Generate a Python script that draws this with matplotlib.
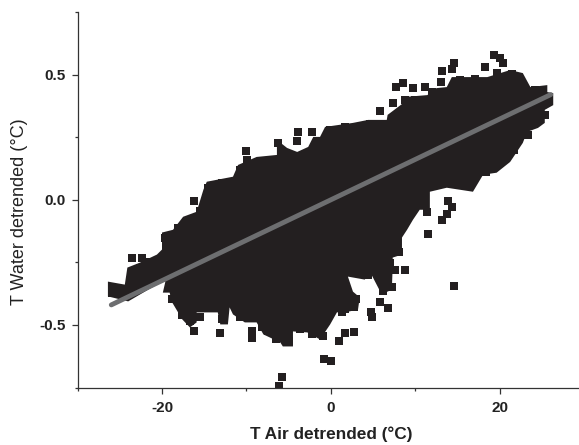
import matplotlib
matplotlib.use("Agg")
import matplotlib.pyplot as plt

# outline of the solid black part of the cloud
core_x = [-26.4, -24.4, -24.1, -22.6, -20.6, -20.0, -20.0, -18.7, -17.5, -15.9, -15.1, -14.7,
          -11.6, -11.0, -8.8, -6.4, -6.4, -5.2, -4.0, -2.7, -2.1, -1.3, -0.7, 2.6, 4.4, 6.6,
          6.7, 8.7, 8.5, 11.4, 12.5, 13.7, 14.3, 18.5, 21.2, 22.7, 23.6, 25.6, 25.6, 26.3,
          26.3, 25.3, 25.3, 24.5, 23.2, 22.7, 21.2, 19.6, 18.0, 16.8, 13.7, 11.7, 11.7, 10.5,
          9.7, 9.0, 8.4, 8.4, 7.3, 7.3, 7.2, 6.0, 4.6, 4.0, 2.0, 2.6, 3.4, 3.2, 2.2, 0.7,
          -0.1, -1.3, -2.8, -4.5, -4.5, -5.7, -6.0, -8.0, -8.8, -10.2, -11.6, -12.0, -12.2,
          -13.1, -13.4, -15.9, -15.9, -16.7, -17.6, -18.8, -19.1, -19.9, -19.6, -20.2, -24.0,
          -26.4]
core_y = [-0.327, -0.339, -0.271, -0.251, -0.219, -0.199, -0.131, -0.120, -0.068, -0.048, 0.040,
          0.072, 0.092, 0.139, 0.171, 0.179, 0.239, 0.207, 0.191, 0.211, 0.251, 0.251, 0.291,
          0.307, 0.319, 0.319, 0.339, 0.390, 0.410, 0.418, 0.446, 0.450, 0.490, 0.490, 0.518,
          0.506, 0.450, 0.458, 0.430, 0.426, 0.378, 0.359, 0.307, 0.287, 0.271, 0.227, 0.151,
          0.108, 0.100, 0.032, 0.048, 0.032, -0.040, -0.040, -0.080, -0.120, -0.151, -0.219,
          -0.231, -0.267, -0.359, -0.378, -0.287, -0.319, -0.307, -0.367, -0.390, -0.438,
          -0.446, -0.450, -0.498, -0.558, -0.530, -0.526, -0.586, -0.586, -0.570, -0.538,
          -0.490, -0.490, -0.458, -0.430, -0.498, -0.498, -0.450, -0.450, -0.490, -0.510,
          -0.478, -0.410, -0.371, -0.371, -0.327, -0.331, -0.406, -0.386]

# single squares that stand clear of the cloud
pts_x = [-16.2, -15.5, -10.1, -9.9, -3.9, -2.2, -4.0, -6.3, 7.7, 8.5, 5.8, 7.3, 8.8, 14.6, 14.3,
         13.1, 13.0, 19.3, 20.0, 20.4, 18.2, 19.6, 11.1, 9.7, 13.8, 14.3, 13.7, 13.1, 11.5, 11.4,
         -23.6, -22.4, -13.1, -16.2, -9.3, -9.3, -7.5, -6.5, -5.0, -5.8, -6.2, 8.8, 14.6, 6.7,
         5.8, 4.7, 4.9, 2.7, 1.7, 0.9, 1.3, 2.7, -0.8, 0.0, -0.9, 6.2, 7.2, 8.0, 7.0]
pts_y = [-0.004, -0.044, 0.195, 0.159, 0.271, 0.271, 0.235, 0.227, 0.450, 0.466, 0.355, 0.386,
         0.398, 0.546, 0.522, 0.514, 0.470, 0.578, 0.566, 0.546, 0.530, 0.506, 0.450, 0.446,
         -0.004, -0.028, -0.056, -0.080, -0.135, -0.048, -0.231, -0.231, -0.534, -0.526, -0.526,
         -0.554, -0.526, -0.558, -0.566, -0.709, -0.745, -0.279, -0.343, -0.434, -0.410, -0.450,
         -0.470, -0.530, -0.534, -0.566, -0.450, -0.430, -0.637, -0.645, -0.546, -0.363, -0.347,
         -0.207, -0.251]

# squares along the rim of the cloud
rim_x = [-25.9, -25.9, -25.0, -22.6, -21.4, -19.6, -18.8, -18.1, -17.2, -14.6, -12.9, -10.8, -8.2,
         -1.5, -0.1, 1.7, 4.6, 9.9, 12.0, 15.3, 17.0, 21.4, 24.1, 25.3, 23.3, 21.7, 18.4,
         -18.8, -17.6, -16.7, -15.5, -12.9, -10.8, -8.2, -3.7, -2.2, 1.7, 3.0, 4.4, 6.4, 7.6]
rim_y = [-0.347, -0.371, -0.355, -0.271, -0.247, -0.151, -0.139, -0.112, -0.088, 0.048, 0.068,
         0.120, 0.155, 0.231, 0.279, 0.291, 0.303, 0.398, 0.430, 0.478, 0.482, 0.502, 0.438,
         0.339, 0.259, 0.199, 0.112, -0.398, -0.462, -0.486, -0.470, -0.478, -0.470, -0.510,
         -0.518, -0.538, -0.438, -0.398, -0.299, -0.319, -0.279]

fit_x = [-26, 26]
fit_y = [-0.42, 0.42]

x_ticks = [-20, 0, 20]
x_labels = ["-20", "0", "20"]
y_ticks = [-0.5, 0.0, 0.5]
y_labels = ["-0.5", "0.0", "0.5"]

plt.rcParams["font.family"] = "Liberation Sans"
dark = "#231f20"

fig = plt.figure(figsize=(5.79, 4.45), dpi=100)
ax = fig.add_axes([77.5 / 579, 57.5 / 445, 501.5 / 579, 375.5 / 445])

ax.fill(core_x, core_y, color=dark, lw=0)
ax.scatter(pts_x + rim_x, pts_y + rim_y, marker="s", s=30, color=dark, linewidths=0)
ax.plot(fit_x, fit_y, color="#6d6e70", lw=3.5, solid_capstyle="round")

ax.set_xlim(-30, 29.35)
ax.set_ylim(-0.75, 0.75)
ax.set_xticks(x_ticks, x_labels)
ax.set_xticks([-30, -10, 10], minor=True)
ax.set_yticks(y_ticks, y_labels)
ax.set_yticks([-0.75, -0.25, 0.25, 0.75], minor=True)

for side in ["top", "right"]:
    ax.spines[side].set_visible(False)
for side in ["left", "bottom"]:
    ax.spines[side].set_color("#333333")
    ax.spines[side].set_linewidth(0.9)
ax.tick_params(which="major", length=4.5, width=0.9, color="#333333", labelsize=11,
               labelcolor="#222222", pad=5)
ax.tick_params(axis="y", which="major", pad=4)
ax.tick_params(which="minor", length=2.5, width=0.9, color="#333333")
for lab in ax.get_xticklabels() + ax.get_yticklabels():
    lab.set_fontweight("bold")

fig.text(331 / 579, 1 - 434 / 445, "T Air detrended (°C)", ha="center", va="center",
         fontsize=12.4, fontweight="bold", color="#222222")
fig.text(20 / 579, 1 - 212 / 445, "T Water detrended (°C)", ha="center", va="center",
         rotation=90, fontsize=13, color="#222222")

fig.savefig("out.png", dpi=100)
